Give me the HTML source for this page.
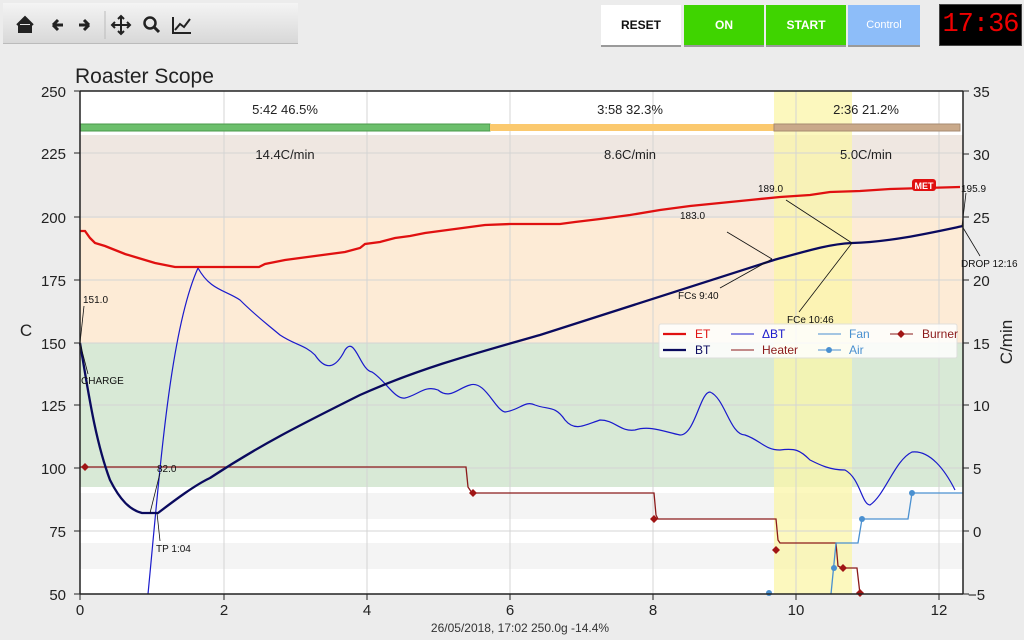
<!DOCTYPE html>
<html><head><meta charset="utf-8"><style>
body{margin:0;width:1024px;height:640px;background:#ececec;font-family:"Liberation Sans",sans-serif;overflow:hidden;position:relative}
.tb{position:absolute;left:3px;top:3px;width:295px;height:40px;background:linear-gradient(#f4f4f4,#d8d8d8);border-bottom:1px solid #bbb}
.btn{position:absolute;top:5px;height:40px;font:bold 12px "Liberation Sans",sans-serif;display:flex;align-items:center;justify-content:center;border-bottom:2px solid #9a9a9a}
</style></head><body>
<div class="tb">
<svg width="295" height="40" style="position:absolute;left:0;top:0" font-family="Liberation Sans" font-weight="bold">
<path d="M14 22 L22 14 L30 22 M16 21 V29 H28 V21" fill="#222" stroke="#222" stroke-width="2"/>
<path d="M50 22 H60 M50 22 L55 17 M50 22 L55 27" stroke="#222" stroke-width="3" fill="none"/>
<path d="M86 22 H76 M86 22 L81 17 M86 22 L81 27" stroke="#222" stroke-width="3" fill="none"/>
<line x1="102" y1="8" x2="102" y2="36" stroke="#bbb"/>
<path d="M118 13 V31 M109 22 H127 M115 16 L118 13 L121 16 M115 28 L118 31 L121 28 M112 19 L109 22 L112 25 M124 19 L127 22 L124 25" stroke="#222" stroke-width="2" fill="none"/>
<circle cx="147" cy="20" r="5.5" stroke="#222" stroke-width="2.5" fill="none"/><line x1="151" y1="24" x2="156" y2="29" stroke="#222" stroke-width="3"/>
<path d="M170 14 V30 H188 M172 27 L177 21 L181 24 L187 16" stroke="#222" stroke-width="2" fill="none"/>
</svg></div>
<div class="btn" style="left:601px;width:80px;background:#fff;color:#111">RESET</div>
<div class="btn" style="left:684px;width:80px;background:#3fd400;color:#fff">ON</div>
<div class="btn" style="left:766px;width:80px;background:#3fd400;color:#fff">START</div>
<div class="btn" style="left:848px;width:72px;background:#8dbdf9;color:#fff;font-weight:normal;font-size:11px">Control</div>
<div style="position:absolute;left:939px;top:4px;width:81px;height:40px;background:#000;border:1px solid #444;color:#e00;font:27px 'Liberation Mono',monospace;display:flex;align-items:center;justify-content:center;letter-spacing:-1px">17:36</div>

<svg width="1024" height="640" style="position:absolute;left:0;top:0" font-family="Liberation Sans">
<text x="75" y="83" font-size="21" fill="#222">Roaster Scope</text>
<rect x="80" y="91" width="883" height="503" fill="#fff"/>
<rect x="80" y="135" width="883" height="83" fill="#efe7e1"/>
<rect x="80" y="218" width="883" height="125" fill="#fdebd6"/>
<rect x="80" y="343" width="883" height="144" fill="#d8e9d6"/>
<rect x="80" y="493" width="883" height="26" fill="#f4f4f4"/>
<rect x="80" y="543" width="883" height="26" fill="#f4f4f4"/>
<rect x="774" y="91" width="78" height="503" fill="#fbf6a8" opacity="0.75"/>
<g stroke="#d4d4d4" stroke-width="1">
<line x1="80" y1="153" x2="963" y2="153"/><line x1="80" y1="217" x2="963" y2="217"/><line x1="80" y1="280" x2="963" y2="280"/><line x1="80" y1="343" x2="963" y2="343"/><line x1="80" y1="405" x2="963" y2="405"/><line x1="80" y1="468" x2="963" y2="468"/><line x1="80" y1="531" x2="963" y2="531"/>
<line x1="224" y1="91" x2="224" y2="594"/><line x1="367" y1="91" x2="367" y2="594"/><line x1="510" y1="91" x2="510" y2="594"/><line x1="653" y1="91" x2="653" y2="594"/><line x1="796" y1="91" x2="796" y2="594"/><line x1="939" y1="91" x2="939" y2="594"/>
</g>
<rect x="80" y="124" width="410" height="7" fill="#6cbf6c" stroke="#4a9a4a"/>
<rect x="490" y="124" width="284" height="7" fill="#fbc96e"/>
<rect x="774" y="124" width="186" height="7" fill="#c9a98a" stroke="#a68a70"/>
<g font-size="13" fill="#222" text-anchor="middle">
<text x="285" y="114">5:42  46.5%</text><text x="630" y="114">3:58  32.3%</text><text x="866" y="114">2:36  21.2%</text>
<text x="285" y="159">14.4C/min</text><text x="630" y="159">8.6C/min</text><text x="866" y="159">5.0C/min</text>
</g>
<polyline fill="none" stroke="#8b1a1a" stroke-width="1.3" points="80,467 466,467 468,487 472,493 654,493 656,515 658,519 776,519 778,540 780,543 836,543 838,566 842,568 857,568 860,594"/>
<polyline fill="none" stroke="#4a90d0" stroke-width="1.3" points="831,594 836,543 858,543 862,519 908,519 912,493 963,493"/>
<g fill="#4a90d0"><circle cx="769" cy="593" r="3"/><circle cx="834" cy="568" r="3"/><circle cx="862" cy="519" r="3"/><circle cx="912" cy="493" r="3"/></g>
<g fill="#a01515"><path d="M85 463 l4 4 -4 4 -4 -4z"/><path d="M473 489 l4 4 -4 4 -4 -4z"/><path d="M654 515 l4 4 -4 4 -4 -4z"/><path d="M776 546 l4 4 -4 4 -4 -4z"/><path d="M843 564 l4 4 -4 4 -4 -4z"/><path d="M860 589 l4 4 -4 4 -4 -4z"/></g>
<path fill="none" stroke="#1a1acc" stroke-width="1.2" d="M148,594 C160,470 170,330 198,268 C210,290 225,290 240,300 C255,315 262,320 280,335 C295,345 305,345 315,355 C325,370 335,370 345,350 C355,335 360,370 372,372 C385,380 395,400 405,398 C418,395 425,385 438,390 C450,400 458,388 470,385 C485,380 495,410 505,412 C520,410 525,400 535,405 C548,410 555,405 565,420 C575,432 585,425 600,420 C615,420 620,432 635,430 C650,425 665,432 680,435 C695,435 700,392 710,392 C725,398 730,435 745,435 C760,440 765,450 780,450 C795,448 800,450 810,460 C820,465 830,470 845,470 C860,478 862,505 870,505 C885,495 895,460 912,452 C930,450 945,470 955,490"/>
<polyline fill="none" stroke="#e01010" stroke-width="2.3" points="80,231 85,231 90,238 95,243 105,246 115,250 125,254 135,257 145,260 155,263 165,265 175,267 259,267 265,264 275,262 285,260 300,258 315,256 330,254 345,252 360,248 365,244 380,242 395,238 410,236 425,233 440,231 455,229 470,227 485,225 510,224 560,224 575,222 600,219 630,215 660,210 690,206 720,203 750,200 780,197 810,195 830,192 860,191 890,189 960,187"/>
<path fill="none" stroke="#0a0a5e" stroke-width="2.3" d="M80,343 C88,390 95,440 110,480 C120,500 130,510 142,513 L158,513 C175,500 195,485 210,478 C260,445 300,425 360,395 C420,368 480,352 540,335 C600,315 680,290 774,260 C810,250 830,244 852,243 C890,242 930,233 963,226"/>
<g stroke="#111" stroke-width="0.8"><line x1="80" y1="343" x2="84" y2="306"/><line x1="80" y1="343" x2="88" y2="374"/><line x1="150" y1="513" x2="160" y2="473"/><line x1="157" y1="513" x2="160" y2="541"/><line x1="772" y1="259" x2="727" y2="232"/><line x1="772" y1="259" x2="720" y2="288"/><line x1="852" y1="243" x2="786" y2="200"/><line x1="852" y1="243" x2="799" y2="312"/><line x1="962" y1="226" x2="966" y2="193"/><line x1="962" y1="226" x2="980" y2="256"/></g>
<g font-size="10" fill="#111">
<text x="83" y="303">151.0</text><text x="81" y="384">CHARGE</text><text x="157" y="472">82.0</text><text x="156" y="552">TP 1:04</text>
<text x="680" y="219">183.0</text><text x="678" y="299">FCs 9:40</text><text x="758" y="192">189.0</text><text x="787" y="323">FCe 10:46</text>
<text x="961" y="192">195.9</text><text x="961" y="267">DROP 12:16</text>
</g>
<rect x="912" y="179" width="24" height="12" rx="3" fill="#e01010"/><text x="924" y="189" font-size="9" font-weight="bold" fill="#fff" text-anchor="middle">MET</text>
<rect x="659" y="324" width="298" height="34" rx="2" fill="#fff" opacity="0.85" stroke="#ddd"/>
<g font-size="12">
<line x1="663" y1="334" x2="686" y2="334" stroke="#e01010" stroke-width="2.3"/><text x="695" y="338" fill="#e01010">ET</text>
<line x1="663" y1="350" x2="686" y2="350" stroke="#0a0a5e" stroke-width="2.3"/><text x="695" y="354" fill="#0a0a5e">BT</text>
<line x1="731" y1="334" x2="754" y2="334" stroke="#1a1acc"/><text x="762" y="338" fill="#1a1acc">ΔBT</text>
<line x1="731" y1="350" x2="754" y2="350" stroke="#8b1a1a"/><text x="762" y="354" fill="#8b1a1a">Heater</text>
<line x1="818" y1="334" x2="841" y2="334" stroke="#4a90d0"/><text x="849" y="338" fill="#4a90d0">Fan</text>
<line x1="818" y1="350" x2="841" y2="350" stroke="#4a90d0"/><circle cx="829" cy="350" r="3" fill="#4a90d0"/><text x="849" y="354" fill="#4a90d0">Air</text>
<line x1="890" y1="334" x2="913" y2="334" stroke="#8b1a1a"/><path d="M901 330 l4 4 -4 4 -4 -4z" fill="#a01515"/><text x="922" y="338" fill="#8b1a1a">Burner</text>
</g>
<g stroke="#222" stroke-width="1.5" fill="none"><line x1="80" y1="91" x2="963" y2="91"/><line x1="80" y1="91" x2="80" y2="594"/><line x1="963" y1="91" x2="963" y2="594"/><line x1="80" y1="594" x2="963" y2="594"/></g>
<g stroke="#222" stroke-width="1">
<path d="M74 91H80M74 153H80M74 217H80M74 280H80M74 343H80M74 405H80M74 468H80M74 531H80M74 594H80"/>
<path d="M963 91H969M963 154H969M963 217H969M963 280H969M963 343H969M963 405H969M963 468H969M963 531H969M963 594H969"/>
<path d="M80 594V600M224 594V600M367 594V600M510 594V600M653 594V600M796 594V600M939 594V600"/>
</g>
<g font-size="15" fill="#222" text-anchor="end">
<text x="66" y="97">250</text><text x="66" y="159">225</text><text x="66" y="223">200</text><text x="66" y="286">175</text><text x="66" y="349">150</text><text x="66" y="411">125</text><text x="66" y="474">100</text><text x="66" y="537">75</text><text x="66" y="600">50</text>
</g>
<g font-size="15" fill="#222">
<text x="973" y="97">35</text><text x="973" y="160">30</text><text x="973" y="223">25</text><text x="973" y="286">20</text><text x="973" y="349">15</text><text x="973" y="411">10</text><text x="973" y="474">5</text><text x="973" y="537">0</text><text x="968" y="600">−5</text>
</g>
<g font-size="15" fill="#222" text-anchor="middle">
<text x="80" y="615">0</text><text x="224" y="615">2</text><text x="367" y="615">4</text><text x="510" y="615">6</text><text x="653" y="615">8</text><text x="796" y="615">10</text><text x="939" y="615">12</text>
</g>
<text x="26" y="336" font-size="17" fill="#222" text-anchor="middle">C</text>
<text x="1012" y="342" font-size="17" fill="#222" text-anchor="middle" transform="rotate(-90 1012 342)">C/min</text>
<text x="520" y="632" font-size="12" fill="#333" text-anchor="middle">26/05/2018, 17:02   250.0g   -14.4%</text>
</svg>
</body></html>
